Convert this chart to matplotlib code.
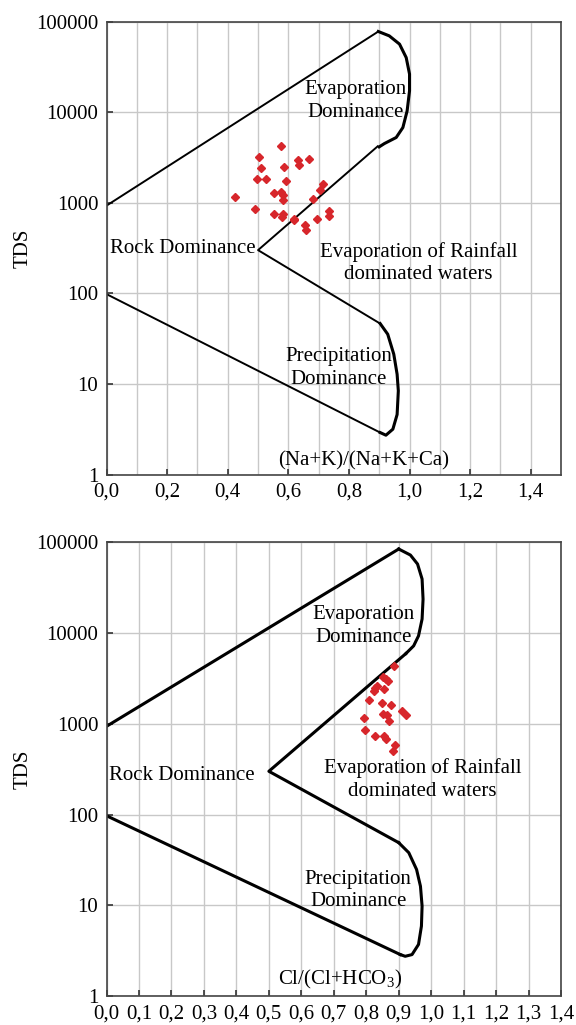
import matplotlib
matplotlib.use('Agg')
import matplotlib.pyplot as plt
from matplotlib.ticker import FuncFormatter, MultipleLocator, LogLocator, NullLocator

plt.rcParams['font.family'] = ['Liberation Serif', 'DejaVu Serif']
plt.rcParams['mathtext.default'] = 'regular'

# ---- sample points ----
na_ratio = [0.575, 0.502, 0.632, 0.669, 0.634, 0.51, 0.587, 0.495, 0.525, 0.591,
            0.715, 0.705, 0.553, 0.575, 0.584, 0.425, 0.681, 0.584, 0.489, 0.733,
            0.553, 0.581, 0.733, 0.578, 0.62, 0.696, 0.62, 0.654, 0.657]
na_tds = [4280, 3210, 3000, 3050, 2590, 2400, 2470, 1850, 1850, 1730,
          1610, 1370, 1290, 1300, 1230, 1150, 1100, 1060, 863, 820,
          754, 754, 710, 692, 664, 667, 650, 575, 506]

cl_ratio = [0.886, 0.852, 0.860, 0.866, 0.826, 0.832, 0.855, 0.824, 0.809, 0.849,
            0.877, 0.909, 0.922, 0.852, 0.864, 0.792, 0.871, 0.796, 0.826, 0.855,
            0.860, 0.888, 0.883]
cl_tds = [4310, 3300, 3130, 2950, 2490, 2590, 2420, 2280, 1840, 1700,
          1630, 1370, 1260, 1290, 1260, 1160, 1070, 848, 740, 728,
          685, 579, 506]

# ---- Gibbs boundaries (top panel) ----
top_upper_x = [0.0, 0.897]
top_upper_y = [930, 77600]
top_evap_x = [0.897, 0.933, 0.967, 0.989, 1.0, 1.0, 0.992, 0.978, 0.956, 0.917, 0.9]
top_evap_y = [77600, 69500, 56300, 40000, 26300, 17200, 10300, 6760, 5250, 4500, 4140]
top_mid_x = [0.895, 0.5, 0.903]
top_mid_y = [4200, 300, 46.4]
top_prec_x = [0.903, 0.928, 0.948, 0.959, 0.963, 0.959, 0.945, 0.922, 0.903]
top_prec_y = [46.4, 35.4, 21.3, 12.8, 8.4, 4.6, 3.17, 2.72, 2.91]
top_lower_x = [0.903, 0.0]
top_lower_y = [2.91, 98]

# ---- Gibbs boundaries (bottom panel) ----
bot_upper_x = [0.0, 0.9]
bot_upper_y = [940, 84600]
bot_evap_x = [0.9, 0.936, 0.958, 0.972, 0.975, 0.972, 0.961, 0.946, 0.922]
bot_evap_y = [84600, 72600, 57800, 39500, 23700, 14300, 9330, 7240, 5950]
bot_mid_x = [0.922, 0.5, 0.9]
bot_mid_y = [5950, 300, 49]
bot_prec_x = [0.9, 0.931, 0.955, 0.967, 0.972, 0.97, 0.961, 0.941, 0.92, 0.905]
bot_prec_y = [49, 38, 24.8, 16.2, 9.8, 5.9, 3.7, 2.86, 2.74, 2.86]
bot_lower_x = [0.905, 0.0]
bot_lower_y = [2.86, 97]

red = '#d7262b'
comma = FuncFormatter(lambda v, p: ('%.1f' % v).replace('.', ','))

fig = plt.figure(figsize=(5.76, 10.25), dpi=100)
ax1 = fig.add_axes([0.185, 0.537, 0.789, 0.442])
ax2 = fig.add_axes([0.185, 0.0283, 0.789, 0.4425])


def style_axes(ax, xmax, xmajor):
    ax.set_yscale('log')
    ax.set_ylim(1, 100000)
    ax.set_xlim(0, xmax)
    ax.xaxis.set_major_locator(MultipleLocator(xmajor))
    ax.xaxis.set_minor_locator(MultipleLocator(0.1))
    ax.xaxis.set_major_formatter(comma)
    ax.yaxis.set_major_locator(LogLocator(base=10, numticks=10))
    ax.yaxis.set_minor_locator(NullLocator())
    ax.yaxis.set_major_formatter(FuncFormatter(lambda v, p: '%d' % round(v)))
    ax.grid(True, which='both', axis='x', color='#c8c8c8', lw=1)
    ax.grid(True, which='major', axis='y', color='#c8c8c8', lw=1)
    ax.set_axisbelow(True)
    ax.tick_params(which='major', direction='in', length=4, width=1.2, color='#333333',
                   labelsize=15, pad=6)
    ax.tick_params(which='minor', length=0)
    for s in ax.spines.values():
        s.set_color('#444444')
        s.set_linewidth(1.2)
    ax.set_ylabel('TDS', fontsize=15)
    ax.yaxis.set_label_coords(-0.163, 0.5)


kw = dict(ha='center', va='center', fontsize=15, linespacing=1.25)

# ---- top panel ----
style_axes(ax1, 1.5, 0.2)
ax1.plot(top_upper_x, top_upper_y, color='black', lw=1.4)
ax1.plot(top_evap_x, top_evap_y, color='black', lw=2.2, solid_joinstyle='round')
ax1.plot(top_mid_x, top_mid_y, color='black', lw=1.4)
ax1.plot(top_prec_x, top_prec_y, color='black', lw=2.2, solid_joinstyle='round')
ax1.plot(top_lower_x, top_lower_y, color='black', lw=1.4)
ax1.plot(na_ratio, na_tds, 'D', color=red, ms=4, mec=red)
ax1.text(0.822, 13200, 'Evaporation\nDominance', **kw)
ax1.text(0.01, 310, 'Rock Dominance', ha='left', va='center', fontsize=15)
ax1.text(1.029, 215, 'Evaporation of Rainfall\ndominated waters', **kw)
ax1.text(0.767, 15, 'Precipitation\nDominance', **kw)
ax1.text(0.566, 0.03, '(Na+K)/(Na+K+Ca)', transform=ax1.transAxes, ha='center', va='center', fontsize=15)

# ---- bottom panel ----
style_axes(ax2, 1.4, 0.1)
ax2.plot(bot_upper_x, bot_upper_y, color='black', lw=2.2)
ax2.plot(bot_evap_x, bot_evap_y, color='black', lw=2.2, solid_joinstyle='round')
ax2.plot(bot_mid_x, bot_mid_y, color='black', lw=2.2, solid_joinstyle='round')
ax2.plot(bot_prec_x, bot_prec_y, color='black', lw=2.2, solid_joinstyle='round')
ax2.plot(bot_lower_x, bot_lower_y, color='black', lw=2.2)
ax2.plot(cl_ratio, cl_tds, 'D', color=red, ms=4, mec=red)
ax2.text(0.792, 12000, 'Evaporation\nDominance', **kw)
ax2.text(0.009, 268, 'Rock Dominance', ha='left', va='center', fontsize=15)
ax2.text(0.973, 244, 'Evaporation of Rainfall\ndominated waters', **kw)
ax2.text(0.775, 14.5, 'Precipitation\nDominance', **kw)
ax2.text(0.513, 0.036, 'Cl/(Cl+HCO$_3$)', transform=ax2.transAxes, ha='center', va='center', fontsize=15)

fig.savefig('out.png', dpi=100)
